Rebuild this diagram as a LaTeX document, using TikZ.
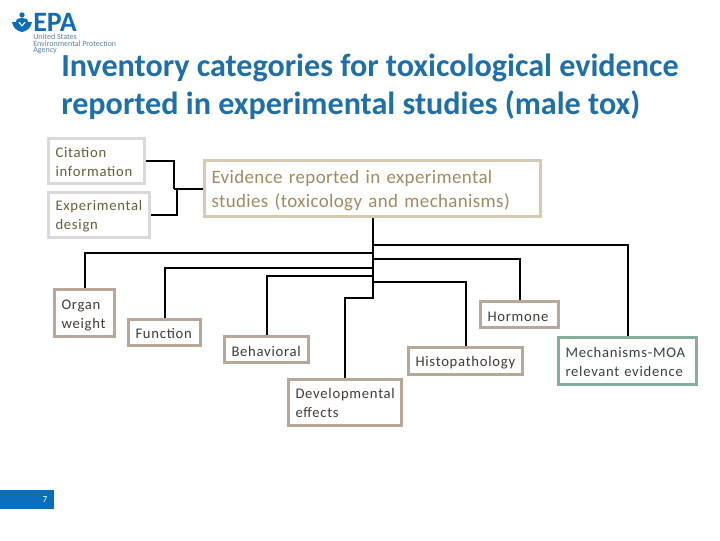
\documentclass[tikz,border=0pt]{standalone}
\usepackage{fontspec}
\setmainfont{Carlito}
\newfontfamily\boxfont[LetterSpace=5]{Carlito}
\newfontfamily\rootfont[LetterSpace=2]{Carlito}
\definecolor{epablue}{HTML}{1F6FA8}
\definecolor{barblue}{HTML}{0A6EBD}
\definecolor{logoblue}{HTML}{0E6DB5}
\definecolor{logotext}{HTML}{5F7F9C}
\definecolor{greyline}{HTML}{D9D9D9}
\definecolor{oliveink}{HTML}{66603C}
\definecolor{tanline}{HTML}{D8CAB0}
\definecolor{tanink}{HTML}{A08B62}
\definecolor{taupeline}{HTML}{B8A89A}
\definecolor{taupeink}{HTML}{423C38}
\definecolor{greenline}{HTML}{85AE9C}
\definecolor{greenink}{HTML}{37433E}
\tikzset{
  boxsize/.style 2 args={minimum width=#1*0.75pt, minimum height=#2*0.75pt, text width=#1*0.75pt-10.5pt},
  nudge/.style={execute at begin node={\rule{0pt}{#1}}},
  catbox/.style={draw=taupeline, line width=2.25pt, fill=white, text=taupeink, align=left, inner xsep=5.25pt, inner ysep=0pt,
    font=\boxfont\fontsize{11}{14.25}\selectfont, nudge=9pt},
  inputbox/.style={catbox, draw=greyline, text=oliveink},
  rootbox/.style={catbox, draw=tanline, text=tanink, font=\rootfont\fontsize{14.2}{18}\selectfont, nudge=13pt},
  moabox/.style={catbox, draw=greenline, text=greenink},
  link/.style={draw=black, line width=1.5pt}
}
\begin{document}
\begin{tikzpicture}[x=0.75pt, y=-0.75pt]
  \useasboundingbox (0,0) rectangle (720,540);
  % logo
  \fill[logoblue] (22,15) circle (2.7);
  \fill[logoblue] (16,22) .. controls (16,18.5) and (19,18) .. (22,18) .. controls (25,18) and (28,18.5) .. (28,22) -- (24,22) -- (22,25) -- (20,22) -- cycle;
  \fill[logoblue] (12,22) -- (18,22) -- (22,27) -- (26,22) -- (32,22) .. controls (31,28) and (27,31) .. (22,32) .. controls (17,31) and (13,28) .. (12,22) -- cycle;
  \node[logoblue, anchor=west, inner sep=0pt, font=\fontsize{21}{21}\bfseries\selectfont] (epa) at (33,22) {EPA};
  \node[logotext, anchor=north west, inner sep=0pt, align=left, font=\fontsize{6}{4.9}\selectfont] (agency) at (33,34) {United States\\Environmental Protection\\Agency};
  % title
  \node[epablue, anchor=west, inner sep=0pt, align=left, font=\fontsize{24.1}{28.5}\bfseries\selectfont] (heading) at (61,86.5)
    {Inventory categories for toxicological evidence\\reported in experimental studies (male tox)};
  % boxes
  \node[inputbox, boxsize={96}{45}] (citation) at (96.5,161) {Citation\\information};
  \node[inputbox, boxsize={101}{45}] (design) at (99,215) {Experimental\\design};
  \node[rootbox, boxsize={336}{56}] (evidence) at (372.5,188.5) {Evidence reported in experimental\\studies (toxicology and mechanisms)};
  \node[catbox, boxsize={60}{47}, nudge=11pt] (organ) at (84.5,313) {Organ\\weight};
  \node[catbox, boxsize={72}{26}] (function) at (164.5,332.5) {Function};
  \node[catbox, boxsize={84}{26}, nudge=10pt] (behavioral) at (266.5,349.5) {Behavioral};
  \node[catbox, boxsize={113}{46}] (developmental) at (345,402.5) {Developmental\\effects};
  \node[catbox, boxsize={78}{26}, nudge=11pt] (hormone) at (519.5,314.5) {Hormone};
  \node[catbox, boxsize={114}{27}, nudge=10pt] (histo) at (465.5,361) {Histopathology};
  \node[moabox, boxsize={138}{47}] (moa) at (627.5,361) {Mechanisms-MOA\\relevant evidence};
  % page number
  \fill[barblue] (0,490) rectangle (54,509);
  \node[white, anchor=center, inner sep=0pt, font=\fontsize{7}{7}\selectfont] (pagenum) at (45,499.5) {7};
  % connectors
  \coordinate (joinA) at (174,188.5);
  \coordinate (joinB) at (177,188.5);
  \coordinate (tapOrgan) at (372.5,253);
  \coordinate (tapFunction) at (372.5,268);
  \coordinate (tapBehavioral) at (372.5,276);
  \coordinate (tapDevelopmental) at (372.5,298);
  \coordinate (tapMoa) at (372.5,245);
  \coordinate (tapHormone) at (372.5,259);
  \coordinate (tapHisto) at (372.5,282);
  \draw[link] (citation.east) -| (joinA);
  \draw[link] (design.east) -| (joinB);
  \draw[link] (joinA) -- (evidence.west);
  \draw[link] (evidence.south) -- (tapDevelopmental) -| (developmental.north);
  \draw[link] (organ.north) |- (tapOrgan);
  \draw[link] (function.north) |- (tapFunction);
  \draw[link] (behavioral.north) |- (tapBehavioral);
  \draw[link] (moa.north) |- (tapMoa);
  \draw[link] (hormone.north) |- (tapHormone);
  \draw[link] (histo.north) |- (tapHisto);
\end{tikzpicture}
\end{document}
